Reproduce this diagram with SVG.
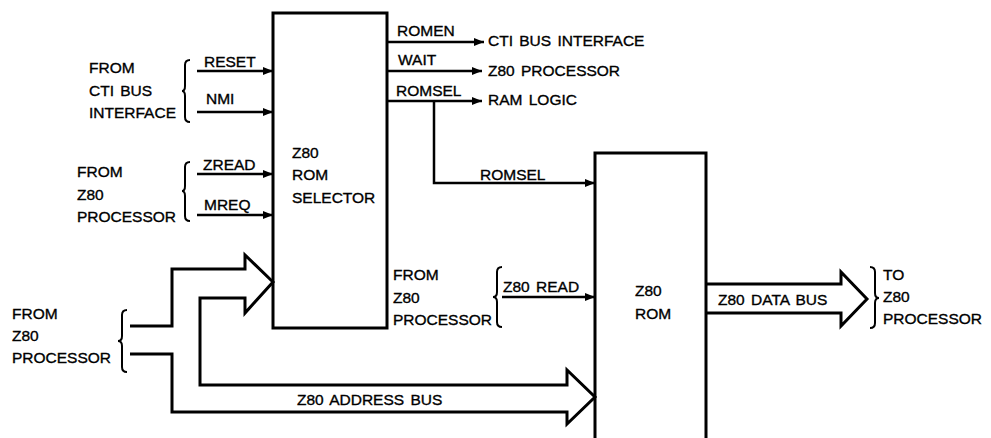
<svg xmlns="http://www.w3.org/2000/svg" width="991" height="438" viewBox="0 0 991 438">
<defs>
<marker id="ah" markerWidth="10" markerHeight="8" refX="10" refY="4" orient="auto" markerUnits="userSpaceOnUse">
<path d="M0,0 L10,4 L0,8 Z" fill="#000"/>
</marker>
<style>
text{font-family:"Liberation Sans",Arial,sans-serif;font-size:15.5px;fill:#000;stroke:#000;stroke-width:0.35}
.sp{word-spacing:2px}
.b{fill:none;stroke:#000;stroke-width:3}
.br{fill:none;stroke:#000;stroke-width:2}
.a{fill:none;stroke:#000;stroke-width:2.5;marker-end:url(#ah)}
</style>
</defs>
<rect width="991" height="438" fill="#fff"/>

<g id="rom-selector">
<rect class="b" x="273" y="13" width="114" height="315"/>
<text x="292" y="158">Z80</text>
<text x="292" y="180">ROM</text>
<text x="292" y="203">SELECTOR</text>
</g>

<g id="z80-rom">
<path class="b" d="M595,438 L595,153 L706,153 L706,438"/>
<text x="635" y="296">Z80</text>
<text x="635" y="319">ROM</text>
</g>

<g id="src-cti">
<text x="89" y="73">FROM</text>
<text x="89" y="96" class="sp">CTI BUS</text>
<text x="89" y="118">INTERFACE</text>
<path class="br" d="M190,60 Q185,60 185,65 L185,86 Q185,91 182,91 Q185,91 185,96 L185,117 Q185,122 190,122"/>
</g>

<g id="src-z80-ctl">
<text x="77" y="177">FROM</text>
<text x="77" y="200">Z80</text>
<text x="77" y="222">PROCESSOR</text>
<path class="br" d="M190,162 Q185,162 185,167 L185,186 Q185,191 182,191 Q185,191 185,196 L185,216 Q185,221 190,221"/>
</g>

<g id="src-z80-bus">
<text x="12" y="319">FROM</text>
<text x="12" y="341">Z80</text>
<text x="12" y="363">PROCESSOR</text>
<path class="br" d="M127,310 Q122,310 122,315 L122,336 Q122,341 118,341 Q122,341 122,346 L122,367 Q122,372 127,372"/>
</g>

<g id="src-z80-read">
<text x="393" y="280">FROM</text>
<text x="393" y="303">Z80</text>
<text x="393" y="325">PROCESSOR</text>
<path class="br" d="M502,267 Q497,267 497,272 L497,292 Q497,297 493,297 Q497,297 497,302 L497,322 Q497,327 502,327"/>
</g>

<g id="dst-cti">
<text x="488" y="46" class="sp">CTI BUS INTERFACE</text>
</g>
<g id="dst-z80">
<text x="488" y="76" class="sp">Z80 PROCESSOR</text>
</g>
<g id="dst-ram">
<text x="488" y="105" class="sp">RAM LOGIC</text>
</g>

<g id="dst-z80-data">
<path class="br" d="M870,267 Q875,267 875,272 L875,293 Q875,298 879,298 Q875,298 875,303 L875,323 Q875,328 870,328"/>
<text x="883" y="280">TO</text>
<text x="883" y="302">Z80</text>
<text x="883" y="324">PROCESSOR</text>
</g>

<g id="connectors">
<line class="a" x1="197" y1="71" x2="273" y2="71"/>
<text x="204" y="67">RESET</text>
<line class="a" x1="197" y1="112" x2="273" y2="112"/>
<text x="206" y="104">NMI</text>
<line class="a" x1="197" y1="174" x2="273" y2="174"/>
<text x="203" y="170">ZREAD</text>
<line class="a" x1="197" y1="215" x2="273" y2="215"/>
<text x="204" y="210">MREQ</text>

<line class="a" x1="387" y1="42" x2="484" y2="42"/>
<text x="397" y="36">ROMEN</text>
<line class="a" x1="387" y1="71" x2="482" y2="71"/>
<text x="398" y="65">WAIT</text>
<line class="a" x1="387" y1="101" x2="482" y2="101"/>
<text x="396" y="96">ROMSEL</text>
<path class="a" d="M434,101 L434,183 L595,183"/>
<text x="480" y="180">ROMSEL</text>

<line class="a" x1="502" y1="297" x2="595" y2="297"/>
<text x="503" y="292" class="sp">Z80 READ</text>

<path class="b" d="M130,326 L172,326 L172,269 L245,269 L245,255 L273,282 L245,313 L245,298 L200,298 L200,385 L567,385 L567,370 L595,397 L567,424 L567,412 L172,412 L172,354 L130,354" stroke-linejoin="miter"/>
<text x="297" y="405" class="sp">Z80 ADDRESS BUS</text>

<path class="b" d="M706,284 L841,284 L841,272 L867,299 L841,326 L841,313 L706,313"/>
<text x="718" y="305" class="sp">Z80 DATA BUS</text>
</g>
</svg>
